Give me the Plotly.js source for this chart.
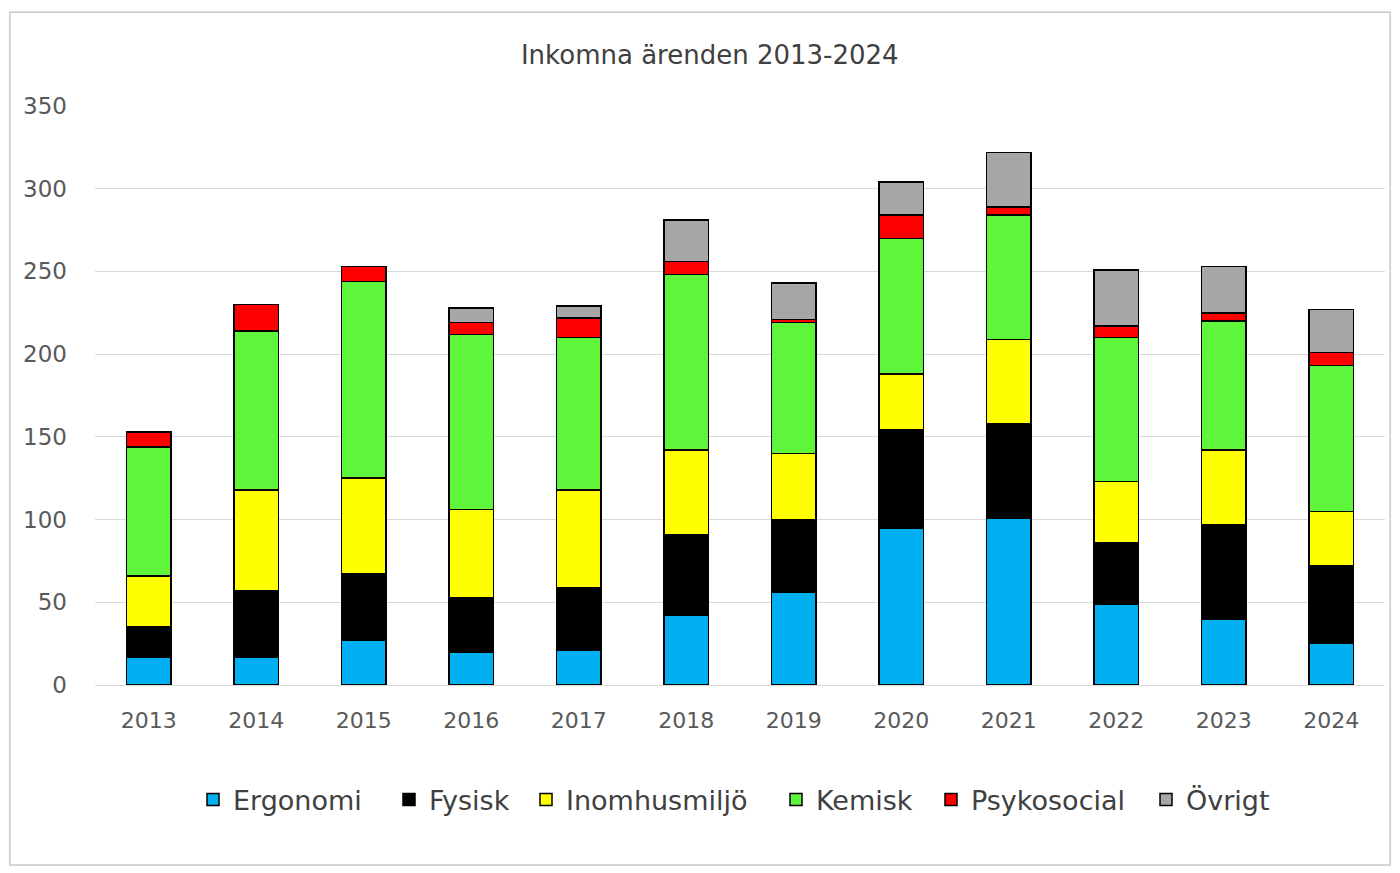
<!DOCTYPE html>
<html>
<head>
<meta charset="utf-8">
<script src="https://cdn.plot.ly/plotly-3.0.1.min.js"></script>
<style>html,body{margin:0;padding:0;background:#fff;}#chart{width:1400px;height:873px;}</style>
</head>
<body>
<div id="chart"></div>
<script>
const years = ['2013','2014','2015','2016','2017','2018','2019','2020','2021','2022','2023','2024'];
const ergonomi     = [17, 17, 27, 20, 21, 42, 56, 95, 101, 49, 40, 25];
const fysisk       = [18, 40, 40, 33, 38, 49, 44, 59, 57, 37, 57, 47];
const inomhusmiljo = [31, 61, 58, 53, 59, 51, 40, 34, 51, 37, 45, 33];
const kemisk       = [78, 96, 119, 106, 92, 106, 79, 82, 75, 87, 78, 88];
const psykosocial  = [9, 16, 9, 7, 12, 8, 2, 14, 5, 7, 5, 8];
const ovrigt       = [0, 0, 0, 9, 7, 25, 22, 20, 33, 34, 28, 26];
const seriesNames = ['Ergonomi', 'Fysisk', 'Inomhusmiljö', 'Kemisk', 'Psykosocial', 'Övrigt'];
const yTicks = [0, 50, 100, 150, 200, 250, 300, 350];

const colors = ['#00b0f0', '#000000', '#ffff00', '#5ef53a', '#ff0000', '#a6a6a6'];
const seriesData = [ergonomi, fysisk, inomhusmiljo, kemisk, psykosocial, ovrigt];
const font = "DejaVu Sans, Liberation Sans, sans-serif";

// plot area geometry (px) used to place the separate legend entries
const plotL = 95, plotW = 1290, plotB = 685, plotH = 579;
const legendLeftPx = [193, 389, 526, 776, 931, 1146];
const legendNames = ['legend', 'legend2', 'legend3', 'legend4', 'legend5', 'legend6'];

const traces = seriesData.map((vals, i) => ({
  type: 'bar',
  name: seriesNames[i],
  x: years,
  y: vals,
  legend: legendNames[i],
  showlegend: true,
  marker: {color: colors[i], line: {color: '#000000', width: 1.5}},
  hoverinfo: 'x+y+name'
}));

const layout = {
  width: 1400, height: 873,
  showlegend: true,
  barmode: 'stack',
  bargap: 0.59,
  paper_bgcolor: '#ffffff',
  plot_bgcolor: '#ffffff',
  margin: {l: 95, r: 15, t: 106, b: 188},
  title: {text: 'Inkomna ärenden 2013-2024', x: 0.507, xanchor: 'center', y: 0.937, yanchor: 'middle',
          font: {family: font, size: 26, color: '#404040'}},
  xaxis: {type: 'category', showgrid: false, zeroline: false, showline: false, ticks: '',
          tickfont: {family: font, size: 22, color: '#595959'}, ticklabelstandoff: 20},
  yaxis: {range: [0, 350], tickvals: yTicks, showgrid: true, gridcolor: '#d9d9d9', gridwidth: 1,
          zeroline: true, zerolinecolor: '#d9d9d9', zerolinewidth: 1, showline: false, ticks: '',
          tickfont: {family: font, size: 23, color: '#595959'}, ticklabelstandoff: 27},
  shapes: [{type: 'rect', xref: 'paper', yref: 'paper', x0: -0.066, x1: 1.004, y0: -0.311, y1: 1.162,
            line: {color: '#c8c8c8', width: 1.5}, fillcolor: 'rgba(0,0,0,0)', layer: 'below'}]
};

legendNames.forEach((ln, i) => {
  layout[ln] = {
    x: (legendLeftPx[i] - plotL) / plotW, xanchor: 'left',
    y: (plotB - 800) / plotH, yanchor: 'middle',
    font: {family: font, size: 27, color: '#404040'},
    itemwidth: 30, bgcolor: 'rgba(0,0,0,0)', borderwidth: 0
  };
});

Plotly.newPlot('chart', traces, layout, {displayModeBar: false, staticPlot: true});
</script>
</body>
</html>
